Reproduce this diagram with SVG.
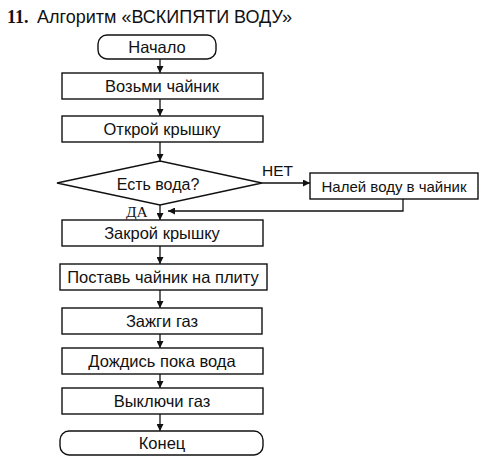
<svg xmlns="http://www.w3.org/2000/svg" width="492" height="465" viewBox="0 0 492 465">
<defs>
<marker id="ah" viewBox="0 0 10 10" refX="10" refY="5" markerWidth="7" markerHeight="7" orient="auto" markerUnits="userSpaceOnUse">
<path d="M0,0 L10,5 L0,10 Z" fill="#111"/>
</marker>
<style>
.box{fill:#fff;stroke:#111;stroke-width:1.4}
.t{font-family:"Liberation Sans",Arial,sans-serif;font-size:16.5px;fill:#111;text-anchor:middle;dominant-baseline:central}
.c{stroke:#111;stroke-width:1.3;fill:none;marker-end:url(#ah)}
</style>
</defs>
<rect width="492" height="465" fill="#fff"/>
<text x="7" y="23" style="font-family:'Liberation Serif',serif;font-size:18px;font-weight:bold;fill:#111">11.</text>
<text x="37" y="23" style="font-family:'Liberation Sans',Arial,sans-serif;font-size:18px;fill:#111">Алгоритм «ВСКИПЯТИ ВОДУ»</text>
<g id="connectors">
<line class="c" x1="160" y1="59" x2="160" y2="73"/>
<line class="c" x1="160" y1="99" x2="160" y2="116"/>
<line class="c" x1="160" y1="142" x2="160" y2="161"/>
<line class="c" x1="262" y1="183" x2="310" y2="183"/>
<polyline class="c" points="403,199 403,211 168,211"/>
<line class="c" x1="160" y1="205" x2="160" y2="220"/>
<line class="c" x1="160" y1="246" x2="160" y2="264"/>
<line class="c" x1="160" y1="290" x2="160" y2="308"/>
<line class="c" x1="160" y1="334" x2="160" y2="348"/>
<line class="c" x1="160" y1="374" x2="160" y2="388"/>
<line class="c" x1="160" y1="414" x2="160" y2="431"/>
<text x="262" y="170" style="font-family:'Liberation Sans',Arial,sans-serif;font-size:15.5px;fill:#111;dominant-baseline:central">НЕТ</text>
<text x="126" y="211" style="font-family:'Liberation Serif',serif;font-size:15.5px;fill:#111;dominant-baseline:central">ДА</text>
</g>
<g id="start"><rect class="box" x="98" y="35" width="118" height="24" rx="9"/><text class="t" x="157" y="47">Начало</text></g>
<g id="take"><rect class="box" x="62" y="73" width="201" height="26"/><text class="t" x="162" y="86">Возьми чайник</text></g>
<g id="open"><rect class="box" x="62" y="116" width="201" height="26"/><text class="t" x="162" y="129">Открой крышку</text></g>
<g id="check"><polygon class="box" points="57,183 160,161 262,183 160,205"/><text class="t" x="158" y="184" style="font-size:16px">Есть вода?</text></g>
<g id="fill"><rect class="box" x="310" y="173" width="168" height="26"/><text class="t" x="394" y="186" style="font-size:15px">Налей воду в чайник</text></g>
<g id="close"><rect class="box" x="62" y="220" width="201" height="26"/><text class="t" x="162" y="233">Закрой крышку</text></g>
<g id="put"><rect class="box" x="60" y="264" width="207" height="26"/><text class="t" x="163" y="277">Поставь чайник на плиту</text></g>
<g id="gas"><rect class="box" x="62" y="308" width="200" height="26"/><text class="t" x="162" y="321">Зажги газ</text></g>
<g id="wait"><rect class="box" x="62" y="348" width="201" height="26"/><text class="t" x="162" y="361">Дождись пока вода</text></g>
<g id="off"><rect class="box" x="62" y="388" width="201" height="26"/><text class="t" x="162" y="401">Выключи газ</text></g>
<g id="end"><rect class="box" x="60" y="431" width="203" height="24" rx="9"/><text class="t" x="162" y="443">Конец</text></g>
</svg>
